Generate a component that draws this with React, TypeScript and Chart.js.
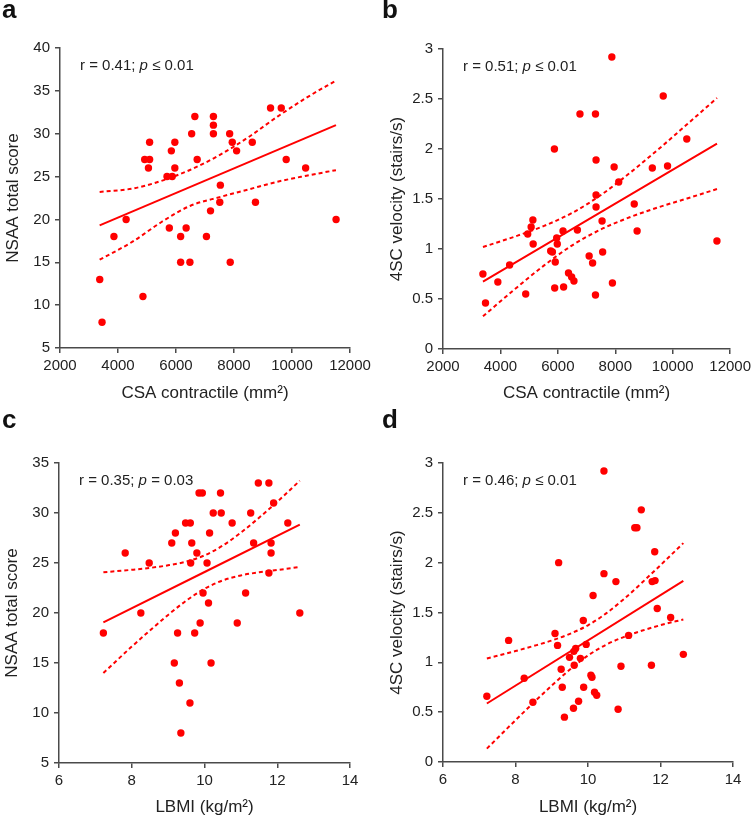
import React, { useEffect, useRef } from "react";
import { Chart, registerables } from "chart.js";

Chart.register(...registerables);

const FONT = '"Liberation Sans", Arial, Helvetica, sans-serif';
const RED = "#ff0000";
const AXIS = "#4a4a4a";
const TEXT = "#222222";

// ---------- Panel a: CSA contractile vs NSAA ----------
const aX = [3370, 3450, 3860, 4280, 4860, 4920, 5090, 5050, 5090, 5690, 5870, 5840, 5960, 5960, 5770, 6160, 6350, 6160, 6480, 6540, 6650, 6730, 7050, 7190, 7290, 7290, 7290, 7530, 7510, 7850, 7870, 7940, 8090, 8630, 8740, 9260, 9630, 9800, 10470, 11520];
const aY = [13, 8, 18, 20, 11, 27, 27, 26, 29, 25, 25, 28, 29, 26, 19, 18, 19, 15, 15, 30, 32, 27, 18, 21, 32, 31, 30, 24, 22, 30, 15, 29, 28, 29, 22, 33, 33, 27, 26, 20];
const aFitX = [3367, 11516];
const aFitY = [19.3, 31.0];
const aBandX = [3367, 4500, 5500, 6500, 7500, 8500, 9500, 10500, 11516];
const aUpper = [23.2, 23.6, 24.5, 25.8, 27.5, 29.6, 32.0, 34.2, 36.2];
const aLower = [15.3, 17.4, 19.7, 21.6, 22.6, 23.5, 24.4, 25.1, 25.75];

// ---------- Panel b: CSA contractile vs 4SC velocity ----------
const bX = [3390, 3480, 3910, 4320, 4880, 4950, 5070, 5130, 5140, 5750, 5810, 5910, 5880, 5890, 5960, 5980, 6180, 6200, 6370, 6480, 6560, 6680, 6770, 7090, 7210, 7310, 7330, 7330, 7330, 7310, 7540, 7560, 7880, 7960, 7900, 8120, 8660, 8760, 9290, 9670, 9820, 10490, 11540];
const bY = [0.75, 0.46, 0.67, 0.84, 0.55, 1.15, 1.22, 1.29, 1.05, 0.98, 0.97, 0.87, 2.0, 0.61, 1.11, 1.05, 1.18, 0.62, 0.76, 0.72, 0.68, 1.19, 2.35, 0.93, 0.86, 2.35, 1.89, 1.54, 1.42, 0.54, 1.28, 0.97, 2.92, 1.82, 0.66, 1.67, 1.45, 1.18, 1.81, 2.53, 1.83, 2.1, 1.08];
const bFitX = [3392, 11542];
const bFitY = [0.673, 2.053];
const bBandX = [3392, 4500, 5500, 6500, 7500, 8500, 9500, 10500, 11542];
const bUpper = [1.02, 1.124, 1.229, 1.361, 1.54, 1.759, 1.997, 2.247, 2.51];
const bLower = [0.327, 0.598, 0.831, 1.037, 1.196, 1.317, 1.417, 1.505, 1.6];

// ---------- Panel c: LBMI vs NSAA ----------
const cX = [7.22, 7.82, 8.25, 8.48, 9.1, 9.2, 9.17, 9.26, 9.31, 9.35, 9.48, 9.61, 9.6, 9.65, 9.62, 9.73, 9.79, 9.85, 9.94, 9.88, 9.96, 10.07, 10.11, 10.14, 10.18, 10.24, 10.44, 10.46, 10.76, 10.9, 11.13, 11.27, 11.35, 11.48, 11.77, 11.77, 11.83, 11.83, 11.9, 12.29, 12.62];
const cY = [18, 26, 20, 25, 27, 28, 15, 18, 13, 8, 29, 29, 11, 27, 25, 18, 26, 32, 32, 19, 22, 25, 21, 28, 15, 30, 32, 30, 29, 19, 22, 30, 27, 33, 33, 24, 27, 26, 31, 29, 20];
const cFitX = [7.22, 12.62];
const cFitY = [19.07, 28.83];
const cBandX = [7.22, 8, 8.5, 9, 9.5, 10, 10.5, 11, 11.5, 12, 12.62];
const cUpper = [24.07, 24.32, 24.51, 24.77, 25.14, 25.76, 26.74, 28.04, 29.53, 31.12, 33.23];
const cLower = [14.0, 16.64, 18.25, 19.81, 21.24, 22.42, 23.26, 23.76, 24.07, 24.3, 24.6];

// ---------- Panel d: LBMI vs 4SC velocity ----------
const dX = [7.21, 7.81, 8.24, 8.48, 9.09, 9.16, 9.19, 9.26, 9.29, 9.35, 9.49, 9.6, 9.62, 9.61, 9.66, 9.74, 9.79, 9.87, 9.88, 9.95, 10.08, 10.11, 10.14, 10.18, 10.24, 10.44, 10.44, 10.77, 10.83, 10.91, 11.12, 11.29, 11.35, 11.47, 11.75, 11.77, 11.85, 11.84, 11.91, 12.28, 12.63];
const dY = [0.66, 1.22, 0.84, 0.6, 1.29, 1.17, 2.0, 0.93, 0.75, 0.45, 1.05, 0.54, 0.97, 1.11, 1.14, 0.61, 1.04, 1.42, 0.75, 1.18, 0.87, 0.85, 1.67, 0.7, 0.67, 2.92, 1.89, 1.81, 0.53, 0.96, 1.27, 2.35, 2.35, 2.53, 0.97, 1.81, 1.82, 2.11, 1.54, 1.45, 1.08];
const dFitX = [7.21, 12.63];
const dFitY = [0.587, 1.817];
const dBandX = [7.21, 8, 8.5, 9, 9.5, 10, 10.5, 11, 11.5, 12, 12.63];
const dUpper = [1.039, 1.113, 1.164, 1.219, 1.286, 1.372, 1.491, 1.638, 1.803, 1.975, 2.196];
const dLower = [0.134, 0.419, 0.596, 0.767, 0.928, 1.068, 1.177, 1.256, 1.319, 1.373, 1.43];

// ---------- Axis tick labels ----------
const csaTicks = [2000, 4000, 6000, 8000, 10000, 12000];
const lbmiTicks = [6, 8, 10, 12, 14];
const nsaaTicksA = [5, 10, 15, 20, 25, 30, 35, 40];
const nsaaTicksC = [5, 10, 15, 20, 25, 30, 35];
const velTicks = [0, 0.5, 1, 1.5, 2, 2.5, 3];

const zip = (xs: number[], ys: number[]) => xs.map((x, i) => ({ x, y: ys[i] }));

type PanelCfg = {
  xs: number[]; ys: number[];
  fitX: number[]; fitY: number[];
  bandX: number[]; upper: number[]; lower: number[];
  xTicks: number[]; yTicks: number[];
  xTitle: string; yTitle: string;
  r: string; pOp: string; pVal: string;
  w: number; h: number;
  padTop: number; padRight: number;
  yWidth: number; xHeight: number;
  yTitlePad: number; xTitlePad: number;
};

function buildConfig(p: PanelCfg): any {
  const statPlugin = {
    id: "stat",
    afterDraw(chart: any) {
      const { ctx, chartArea } = chart;
      ctx.save();
      ctx.fillStyle = TEXT;
      ctx.textAlign = "left";
      ctx.textBaseline = "alphabetic";
      let x = chartArea.left + 20;
      const y = chartArea.top + 22;
      ctx.font = `15px ${FONT}`;
      const s1 = `r = ${p.r}; `;
      ctx.fillText(s1, x, y);
      x += ctx.measureText(s1).width;
      ctx.font = `italic 15px ${FONT}`;
      ctx.fillText("p", x, y);
      x += ctx.measureText("p").width;
      ctx.font = `15px ${FONT}`;
      ctx.fillText(` ${p.pOp} ${p.pVal}`, x, y);
      ctx.restore();
    },
  };

  const lineDs = (xs: number[], ys: number[], dash: number[]) => ({
    type: "scatter",
    data: zip(xs, ys),
    showLine: true,
    borderColor: RED,
    borderWidth: 2,
    borderDash: dash,
    pointRadius: 0,
    pointHoverRadius: 0,
    cubicInterpolationMode: "monotone",
    fill: false,
  });

  const scaleCommon = {
    type: "linear",
    grid: { display: true, drawOnChartArea: false, drawTicks: true, tickLength: 5, color: AXIS, lineWidth: 1.5 },
    border: { display: true, color: AXIS, width: 1.5 },
  };

  return {
    type: "scatter",
    data: {
      datasets: [
        lineDs(p.bandX, p.upper, [4, 3]),
        lineDs(p.bandX, p.lower, [4, 3]),
        lineDs(p.fitX, p.fitY, []),
        {
          type: "scatter",
          data: zip(p.xs, p.ys),
          pointRadius: 3.7,
          pointBackgroundColor: RED,
          pointBorderWidth: 0,
          showLine: false,
        },
      ],
    },
    options: {
      responsive: false,
      animation: false,
      events: [],
      layout: { padding: { top: p.padTop, right: p.padRight, left: 0, bottom: 0 } },
      plugins: { legend: { display: false }, tooltip: { enabled: false } },
      scales: {
        x: {
          ...scaleCommon,
          position: "bottom",
          min: p.xTicks[0],
          max: p.xTicks[p.xTicks.length - 1],
          afterBuildTicks: (s: any) => { s.ticks = p.xTicks.map((v) => ({ value: v })); },
          afterFit: (s: any) => { s.height = p.xHeight; },
          ticks: { color: TEXT, font: { family: FONT, size: 15 }, padding: 4, maxRotation: 0, autoSkip: false, callback: (v: any) => String(v) },
          title: { display: true, text: p.xTitle, color: TEXT, font: { family: FONT, size: 17, lineHeight: 1 }, padding: { top: 0, bottom: p.xTitlePad } },
        },
        y: {
          ...scaleCommon,
          position: "left",
          min: p.yTicks[0],
          max: p.yTicks[p.yTicks.length - 1],
          afterBuildTicks: (s: any) => { s.ticks = p.yTicks.map((v) => ({ value: v })); },
          afterFit: (s: any) => { s.width = p.yWidth; },
          ticks: { color: TEXT, font: { family: FONT, size: 15 }, padding: 5, autoSkip: false, callback: (v: any) => String(v) },
          title: { display: true, text: p.yTitle, color: TEXT, font: { family: FONT, size: 17, lineHeight: 1 }, padding: { top: p.yTitlePad, bottom: 0 } },
        },
      },
    },
    plugins: [statPlugin],
  };
}

function Panel({ cfg, left, top, letter }: { cfg: PanelCfg; left: number; top: number; letter: string }) {
  const ref = useRef<HTMLCanvasElement | null>(null);
  useEffect(() => {
    if (!ref.current) return;
    const chart = new Chart(ref.current, buildConfig(cfg));
    return () => chart.destroy();
  }, []);
  return (
    <div style={{ position: "absolute", left, top, width: cfg.w, height: cfg.h }}>
      <canvas ref={ref} width={cfg.w} height={cfg.h} style={{ width: cfg.w, height: cfg.h, display: "block" }} />
      <div style={{ position: "absolute", left: letter === "a" || letter === "c" ? 2 : 4, top: -4, font: `bold 26px ${FONT}`, lineHeight: "26px", color: "#111" }}>
        {letter}
      </div>
    </div>
  );
}

const panelA: PanelCfg = {
  xs: aX, ys: aY, fitX: aFitX, fitY: aFitY, bandX: aBandX, upper: aUpper, lower: aLower,
  xTicks: csaTicks, yTicks: nsaaTicksA, xTitle: "CSA contractile (mm²)", yTitle: "NSAA total score",
  r: "0.41", pOp: "≤", pVal: "0.01",
  w: 378, h: 410, padTop: 48, padRight: 28, yWidth: 60, xHeight: 62, yTitlePad: 4.5, xTitlePad: 8.5,
};
const panelB: PanelCfg = {
  xs: bX, ys: bY, fitX: bFitX, fitY: bFitY, bandX: bBandX, upper: bUpper, lower: bLower,
  xTicks: csaTicks, yTicks: velTicks, xTitle: "CSA contractile (mm²)", yTitle: "4SC velocity (stairs/s)",
  r: "0.51", pOp: "≤", pVal: "0.01",
  w: 377, h: 410, padTop: 49, padRight: 22, yWidth: 65, xHeight: 61, yTitlePad: 11, xTitlePad: 8.5,
};
const panelC: PanelCfg = {
  xs: cX, ys: cY, fitX: cFitX, fitY: cFitY, bandX: cBandX, upper: cUpper, lower: cLower,
  xTicks: lbmiTicks, yTicks: nsaaTicksC, xTitle: "LBMI (kg/m²)", yTitle: "NSAA total score",
  r: "0.35", pOp: "=", pVal: "0.03",
  w: 378, h: 406, padTop: 53, padRight: 28, yWidth: 59, xHeight: 53, yTitlePad: 4, xTitlePad: 0,
};
const panelD: PanelCfg = {
  xs: dX, ys: dY, fitX: dFitX, fitY: dFitY, bandX: dBandX, upper: dUpper, lower: dLower,
  xTicks: lbmiTicks, yTicks: velTicks, xTitle: "LBMI (kg/m²)", yTitle: "4SC velocity (stairs/s)",
  r: "0.46", pOp: "≤", pVal: "0.01",
  w: 377, h: 406, padTop: 53, padRight: 22, yWidth: 65, xHeight: 54, yTitlePad: 11, xTitlePad: 0,
};

export default function App() {
  return (
    <div style={{ position: "fixed", left: 0, top: 0, width: 755, height: 816, background: "#fff", overflow: "hidden" }}>
      <Panel cfg={panelA} left={0} top={0} letter="a" />
      <Panel cfg={panelB} left={378} top={0} letter="b" />
      <Panel cfg={panelC} left={0} top={410} letter="c" />
      <Panel cfg={panelD} left={378} top={410} letter="d" />
    </div>
  );
}
